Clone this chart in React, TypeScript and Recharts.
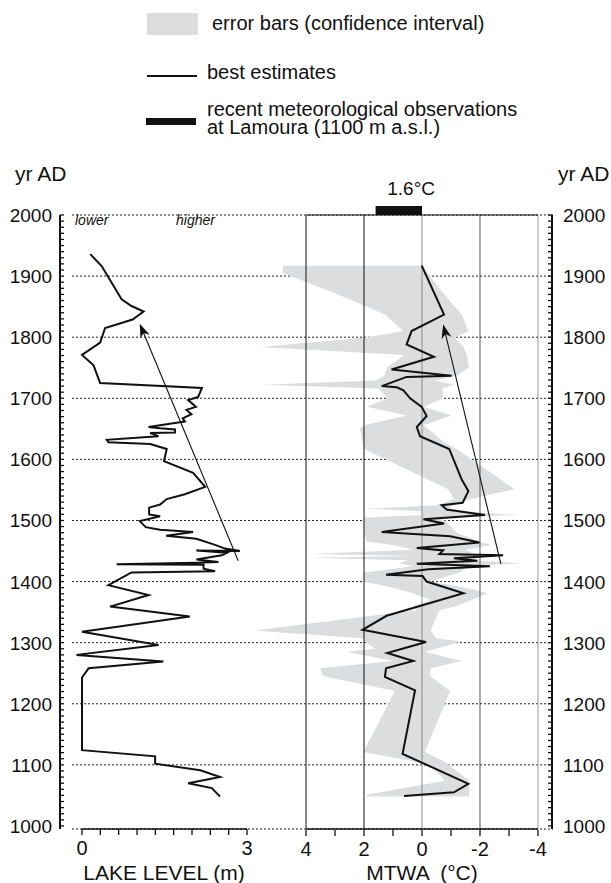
import React from "react";
import {
  ComposedChart, Line, Area, XAxis, YAxis, CartesianGrid, ReferenceLine,
} from "recharts";

// ---- lake level (m), best estimate, read top -> bottom ----
const lakeYears = [
  1936, 1916, 1862, 1851, 1842, 1829, 1815, 1791, 1771, 1754, 1725, 1717, 1702, 1697,
  1686, 1681, 1674, 1667, 1662, 1653, 1651, 1649, 1644, 1643, 1638, 1632, 1628, 1625,
  1617, 1597, 1578, 1555, 1543, 1535, 1526, 1521, 1510, 1507, 1499, 1489, 1485, 1481,
  1475, 1470, 1460, 1456, 1454, 1450, 1451, 1447, 1443, 1436, 1432, 1431, 1428.5, 1427.5,
  1421, 1417, 1415, 1394, 1378, 1359, 1343, 1318, 1296, 1280, 1269, 1258, 1243, 1124,
  1114, 1102, 1091, 1080, 1070, 1062, 1048,
];
const lakeLevels = [
  0.15, 0.36, 0.72, 0.9, 1.12, 0.92, 0.42, 0.33, 0.0, 0.21, 0.33, 2.18, 2.11, 1.93,
  2.07, 1.9, 1.99, 1.83, 1.87, 1.21, 1.42, 1.69, 1.69, 1.24, 1.39, 0.45, 0.48, 1.24,
  1.54, 1.49, 2.02, 2.24, 1.87, 1.54, 1.42, 1.22, 1.22, 1.42, 1.05, 1.16, 1.42, 2.02,
  1.53, 2.08, 2.42, 2.54, 2.6, 2.87, 2.08, 2.63, 2.54, 2.08, 2.48, 2.08, 0.63, 2.21,
  2.21, 2.42, 0.9, 0.48, 1.21, 0.51, 1.96, 0.0, 1.39, -0.1, 1.48, 0.12, 0.0, 0.0,
  1.33, 1.33, 2.15, 2.51, 1.93, 2.36, 2.51,
];

// ---- MTWA anomaly (°C), best estimate ----
const mtwaYears = [
  1917, 1837, 1810, 1788, 1768, 1747, 1737, 1735, 1720, 1718, 1713, 1700, 1686, 1671,
  1653, 1638, 1617, 1567, 1548, 1529, 1525, 1518, 1509, 1502, 1495, 1481, 1474, 1464,
  1455, 1451, 1445, 1443, 1438, 1434, 1429, 1425, 1420, 1411, 1409, 1400, 1381, 1344,
  1321, 1301, 1283, 1270, 1258, 1244, 1222, 1118, 1069, 1055, 1049,
];
const mtwaValues = [
  0.01, -0.76, 0.36, 0.53, -0.41, 1.05, -1.02, 0.53, 1.39, 0.87, 0.64, 0.41, 0.01, -0.16,
  0.18, 0.07, -0.94, -1.37, -1.6, -1.4, -0.68, -0.85, -2.17, -0.05, -0.76, 1.39, -0.97, -1.98,
  0.18, -0.73, -0.6, -2.8, -1.1, -1.91, 0.18, -2.34, -0.22, 1.24, -0.02, -0.16, -1.43, 1.22,
  2.05, -0.14, 1.2, 0.3, 1.24, 1.28, 0.24, 0.67, -1.6, -1.1, 0.62,
];

// ---- MTWA confidence interval: warm (left) and cold (right) edges ----
const bandYears = [
  1917, 1905, 1872, 1837, 1810, 1799, 1784, 1771, 1751, 1737, 1729, 1722, 1716, 1700,
  1686, 1672, 1656, 1651, 1629, 1617, 1551, 1535, 1525, 1519, 1515, 1509, 1505, 1500,
  1480, 1465, 1460, 1452, 1445, 1442, 1439, 1435, 1430, 1425, 1415, 1400, 1390, 1381,
  1370, 1360, 1353, 1320, 1307, 1302, 1290, 1285, 1270, 1258, 1245, 1221, 1121, 1102,
  1094, 1074, 1051, 1048,
];
const bandWarm = [
  4.8, 4.8, 3.0, 1.28, 0.65, 2.0, 5.6, 0.6, 1.2, 1.3, 1.6, 5.5, 1.5, 1.17,
  1.9, 0.53, 2.0, 2.14, 2.05, 2.0, -0.9, -1.1, -0.5, 1.9, 0.0, 0.0, 2.0, 2.0,
  2.0, 1.9, 1.0, 0.3, 3.9, 0.3, 3.9, 0.5, 0.8, 0.3, 2.0, 2.0, 1.0, 0.3,
  -0.3, 0.3, 0.2, 5.8, 2.0, 2.0, 1.6, 2.6, 1.0, 3.52, 3.4, 0.93, 2.02, -0.16,
  -0.4, -0.79, 1.91, 1.9,
];
const bandCold = [
  0.0, -0.2, -0.73, -1.37, -1.6, -1.14, -1.43, -1.55, -1.62, -1.2, -0.45, -1.1, -0.7, -0.73,
  -0.05, -1.02, -0.05, -0.2, -0.73, -1.2, -3.2, -1.66, -1.1, -0.9, -1.2, -3.38, -0.5, -0.8,
  -1.2, -2.0, -2.4, -1.5, -1.8, -1.6, -2.0, -1.6, -3.4, -1.6, -1.3, -0.3, -1.5, -2.29,
  -1.7, -1.2, -0.6, -0.3, -0.5, -1.37, -0.5, -0.1, -1.37, -0.3, -0.28, -0.97, -0.1, -0.9,
  -1.08, -1.63, -1.63, -1.63,
];

// ---- axes / annotations ----
const yearLabels = [1000, 1100, 1200, 1300, 1400, 1500, 1600, 1700, 1800, 1900, 2000];
const gridYears = [1100, 1200, 1300, 1400, 1500, 1600, 1700, 1800, 1900];
const lakeTicks = [0, 1 / 3, 2 / 3, 1, 4 / 3, 5 / 3, 2, 7 / 3, 8 / 3, 3];
const lakeLabels = [0, 3];
const mtwaTicks = [4, 3, 2, 1, 0, -1, -2, -3, -4];
const mtwaLabels = [4, 2, 0, -2, -4];
const mtwaRules = [4, 2, 0, -2, -4];
const mtwaRuleColors = ["#111", "#111", "#8c8c8c", "#555", "#9a9a9a"];
const observedRange = [0, 1.6]; // °C, Lamoura
const lakeTrend = [[1434, 2.84], [1822, 1.05]]; // [yr, m]
const mtwaTrend = [[1429, -2.72], [1821, -0.73]]; // [yr, °C]

const minorYears: number[] = [];
for (let y = 1000; y <= 2000; y += 10) minorYears.push(y);

const lakeData = lakeYears.map((year, i) => ({ year, level: lakeLevels[i] }));
const mtwaData = mtwaYears.map((year, i) => ({ year, t: mtwaValues[i] }));
const bandData = bandYears.map((year, i) => ({ year, range: [bandCold[i], bandWarm[i]] }));

// plot box spans px 60..552; both x scales share it
const YEAR_DOMAIN = [995, 2000];
const LAKE_DOMAIN = [-0.4, 8.545];   // 0 m at px 82, 55 px per m
const MTWA_DOMAIN = [-4.483, 12.483]; // reversed, 0 °C at px 422, 29 px per °C

const FONT = "'Liberation Sans', Arial, Helvetica, sans-serif";
const INK = "#111";
const BAND = "#dcdddf";

const isIn = (list: number[], v: number) => list.some((l) => Math.abs(l - v) < 1e-6);

function LeftYearTick({ x, y, payload }: any) {
  const major = isIn(yearLabels, payload.value);
  return (
    <g>
      <line x1={x} x2={x + 4} y1={y} y2={y} stroke={INK} strokeWidth={1.3} />
      {major && (
        <text x={x - 8} y={y + 7} textAnchor="end" fontSize={19} fill={INK} fontFamily={FONT}>
          {payload.value}
        </text>
      )}
    </g>
  );
}

function RightYearTick({ x, y, payload }: any) {
  const major = isIn(yearLabels, payload.value);
  return (
    <g>
      <line x1={x - 4} x2={x} y1={y} y2={y} stroke={INK} strokeWidth={1.3} />
      {major && (
        <text x={x + 11} y={y + 7} textAnchor="start" fontSize={19} fill={INK} fontFamily={FONT}>
          {payload.value}
        </text>
      )}
    </g>
  );
}

const bottomTick = (labels: number[]) => ({ x, y, payload }: any) => (
  <g>
    <line x1={x} x2={x} y1={y} y2={y + 6} stroke={INK} strokeWidth={1.3} />
    {isIn(labels, payload.value) && (
      <text x={x} y={y + 26} textAnchor="middle" fontSize={20} fill={INK} fontFamily={FONT}>
        {Math.round(payload.value)}
      </text>
    )}
  </g>
);

function Arrow({ x1, y1, x2, y2 }: any) {
  const a = Math.atan2(y2 - y1, x2 - x1);
  const c = Math.cos(a), s = Math.sin(a);
  const len = 14, half = 5, notch = 10;
  const bx = x2 - len * c, by = y2 - len * s;
  const nx = x2 - notch * c, ny = y2 - notch * s;
  const pts = [
    [x2, y2], [bx - half * s, by + half * c], [nx, ny], [bx + half * s, by - half * c],
  ].map((p) => p.join(",")).join(" ");
  return (
    <g>
      <line x1={x1} y1={y1} x2={nx} y2={ny} stroke={INK} strokeWidth={1.1} />
      <polygon points={pts} fill={INK} />
    </g>
  );
}

function ObsBar({ x1, y1, x2 }: any) {
  const left = Math.min(x1, x2), right = Math.max(x1, x2);
  return (
    <g>
      <rect x={left} y={y1 - 9} width={right - left} height={9} fill={INK} />
      <text x={right + 13} y={y1 - 20} textAnchor="end" fontSize={19} fill={INK} fontFamily={FONT}>
        {observedRange[1]}°C
      </text>
    </g>
  );
}

const txt = (left: number, top: number, size: number, extra: React.CSSProperties = {}) => ({
  position: "absolute" as const, left, top, fontSize: size, lineHeight: `${size}px`,
  whiteSpace: "pre" as const, color: INK, ...extra,
});

export default function App() {
  return (
    <div style={{ position: "absolute", left: 0, top: 0, width: 611, height: 883, fontFamily: FONT, background: "#fff" }}>
      <ComposedChart
        width={611}
        height={883}
        layout="vertical"
        margin={{ top: 215, right: 58, bottom: 52, left: 59 }}
      >
        <XAxis
          xAxisId="lake" type="number" domain={LAKE_DOMAIN} allowDataOverflow
          ticks={lakeTicks} interval={0} height={1} axisLine={false} tickLine={false}
          tickSize={0} tickMargin={0} tick={bottomTick(lakeLabels)}
        />
        <XAxis
          xAxisId="mtwa" type="number" domain={MTWA_DOMAIN} reversed allowDataOverflow
          ticks={mtwaTicks} interval={0} height={1} axisLine={false} tickLine={false}
          tickSize={0} tickMargin={0} tick={bottomTick(mtwaLabels)}
        />
        <YAxis
          yAxisId="left" orientation="left" type="number" dataKey="year" domain={YEAR_DOMAIN}
          reversed allowDataOverflow ticks={minorYears} interval={0} width={1} tickLine={false}
          tickSize={0} tickMargin={0} axisLine={{ stroke: INK, strokeWidth: 2 }} tick={<LeftYearTick />}
        />
        <YAxis
          yAxisId="right" orientation="right" type="number" dataKey="year" domain={YEAR_DOMAIN}
          reversed allowDataOverflow ticks={minorYears} interval={0} width={1} tickLine={false}
          tickSize={0} tickMargin={0} axisLine={{ stroke: INK, strokeWidth: 2 }} tick={<RightYearTick />}
        />
        <YAxis
          yAxisId="grid" type="number" dataKey="year" domain={YEAR_DOMAIN} reversed allowDataOverflow
          ticks={gridYears} hide width={0}
        />

        <Area
          xAxisId="mtwa" yAxisId="left" data={bandData} dataKey="range" type="linear"
          stroke="none" fill={BAND} fillOpacity={1} isAnimationActive={false}
        />

        <CartesianGrid
          yAxisId="grid" xAxisId="mtwa" vertical={false} x={72} width={481}
          stroke="#222" strokeDasharray="2 2"
        />

        {mtwaRules.map((v, i) => (
          <ReferenceLine
            key={v} xAxisId="mtwa" yAxisId="left"
            segment={[{ x: v, y: YEAR_DOMAIN[1] }, { x: v, y: YEAR_DOMAIN[0] }]}
            stroke={mtwaRuleColors[i]} strokeWidth={1}
          />
        ))}
        <ReferenceLine
          xAxisId="mtwa" yAxisId="left"
          segment={[{ x: 4, y: YEAR_DOMAIN[1] }, { x: -4, y: YEAR_DOMAIN[1] }]}
          stroke={INK} strokeWidth={1}
        />
        <ReferenceLine
          xAxisId="mtwa" yAxisId="left"
          segment={[{ x: 4, y: YEAR_DOMAIN[0] }, { x: -4, y: YEAR_DOMAIN[0] }]}
          stroke={INK} strokeWidth={1.3}
        />
        <ReferenceLine
          xAxisId="lake" yAxisId="left"
          segment={[{ x: 0, y: YEAR_DOMAIN[0] }, { x: 3, y: YEAR_DOMAIN[0] }]}
          stroke={INK} strokeWidth={1.3}
        />

        <ReferenceLine
          xAxisId="mtwa" yAxisId="left" ifOverflow="visible"
          segment={[{ x: observedRange[0], y: YEAR_DOMAIN[1] }, { x: observedRange[1], y: YEAR_DOMAIN[1] }]}
          shape={ObsBar}
        />

        <Line
          xAxisId="lake" yAxisId="left" data={lakeData} dataKey="level" type="linear"
          stroke={INK} strokeWidth={2} dot={false} activeDot={false} isAnimationActive={false}
        />
        <Line
          xAxisId="mtwa" yAxisId="left" data={mtwaData} dataKey="t" type="linear"
          stroke={INK} strokeWidth={2} dot={false} activeDot={false} isAnimationActive={false}
        />

        <ReferenceLine
          xAxisId="lake" yAxisId="left"
          segment={[{ x: lakeTrend[0][1], y: lakeTrend[0][0] }, { x: lakeTrend[1][1], y: lakeTrend[1][0] }]}
          shape={Arrow}
        />
        <ReferenceLine
          xAxisId="mtwa" yAxisId="left"
          segment={[{ x: mtwaTrend[0][1], y: mtwaTrend[0][0] }, { x: mtwaTrend[1][1], y: mtwaTrend[1][0] }]}
          shape={Arrow}
        />
      </ComposedChart>

      {/* legend */}
      <div style={{ position: "absolute", left: 147, top: 13, width: 51, height: 22, background: BAND }} />
      <div style={txt(212, 13, 20)}>error bars (confidence interval)</div>
      <div style={{ position: "absolute", left: 147, top: 75, width: 50, height: 1.5, background: INK }} />
      <div style={txt(207, 62, 20)}>best estimates</div>
      <div style={{ position: "absolute", left: 146, top: 118, width: 50, height: 7, background: INK }} />
      <div style={{ ...txt(207, 100, 20), lineHeight: "18px" }}>
        {"recent meteorological observations\nat Lamoura (1100 m a.s.l.)"}
      </div>

      {/* axis captions */}
      <div style={txt(15, 163, 21)}>yr AD</div>
      <div style={txt(558, 163, 21)}>yr AD</div>
      <div style={txt(75, 213, 14, { fontStyle: "italic" })}>lower</div>
      <div style={txt(176, 213, 14, { fontStyle: "italic" })}>higher</div>
      <div style={txt(64, 862, 21, { width: 200, textAlign: "center" })}>LAKE LEVEL (m)</div>
      <div style={txt(322, 862, 21, { width: 200, textAlign: "center" })}>MTWA  (°C)</div>
    </div>
  );
}
